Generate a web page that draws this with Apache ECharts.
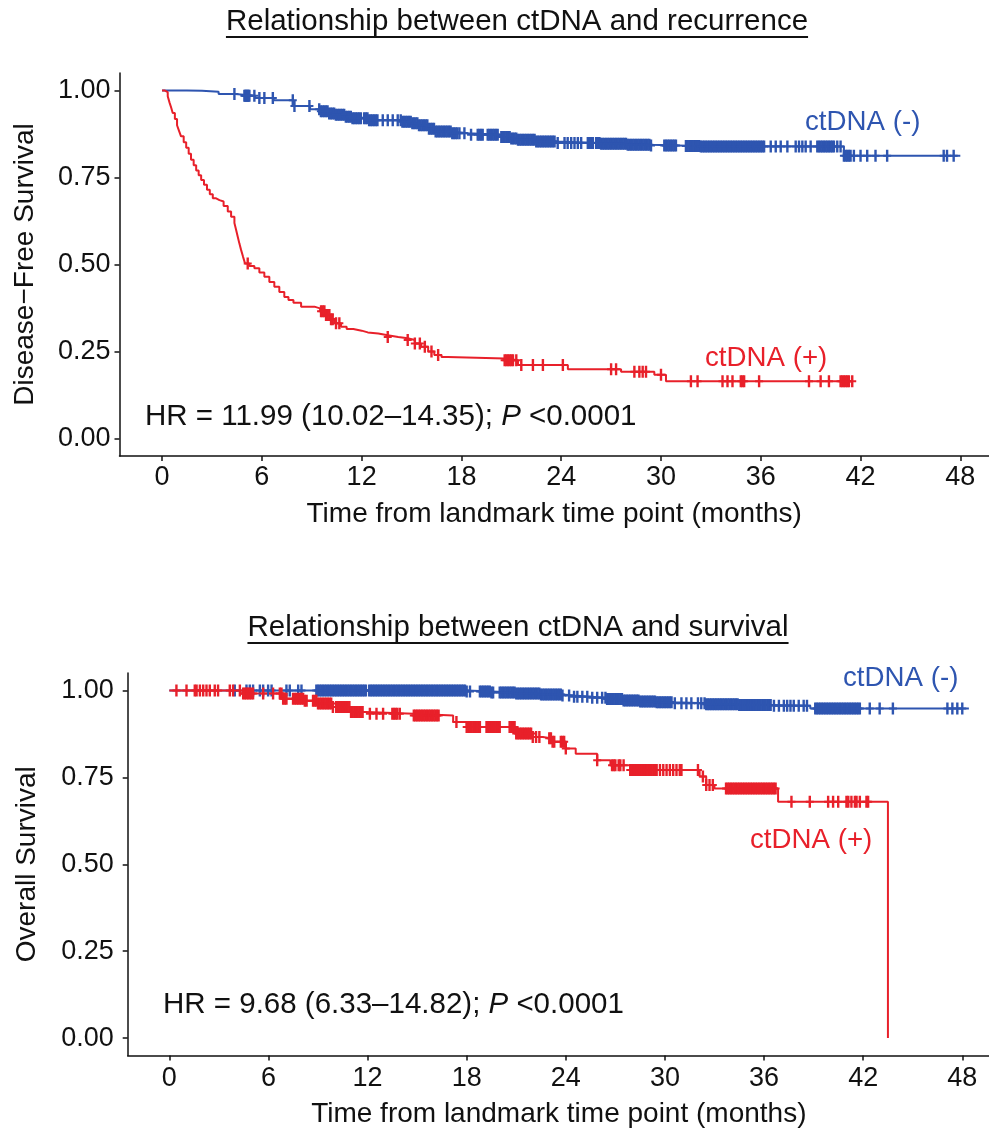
<!DOCTYPE html>
<html>
<head>
<meta charset="utf-8">
<script src="https://cdn.jsdelivr.net/npm/echarts@6.0.0/dist/echarts.min.js"></script>
<style>
html,body{margin:0;padding:0;background:#fff;}
#chart{width:989px;height:1133px;}
</style>
</head>
<body>
<div id="chart"></div>
<script>
// ---------- tick labels ----------
const xTicks = [0, 6, 12, 18, 24, 30, 36, 42, 48];
const yTicks = [0, 0.25, 0.5, 0.75, 1];

// ---------- Disease-free survival, ctDNA (-) ----------
const dfsNegTime = [0, 1.5, 2.4, 3.4, 4.4, 5.6, 6.7, 7.9, 8.9, 9.5, 10.0, 10.4, 11.0, 11.4, 12.4, 14.4, 15.0, 15.4, 16.0, 16.4, 17.4, 18.4, 20.4, 21.0, 21.4, 22.5, 23.7, 26.4, 28.0, 29.4, 31.0, 32.4, 41.0, 48.0];
const dfsNegSurv = [1.0, 0.999, 0.996, 0.99, 0.985, 0.978, 0.972, 0.955, 0.946, 0.94, 0.934, 0.93, 0.924, 0.92, 0.914, 0.91, 0.906, 0.9, 0.89, 0.882, 0.877, 0.873, 0.866, 0.862, 0.858, 0.853, 0.849, 0.847, 0.844, 0.842, 0.84, 0.839, 0.812, 0.812];
const dfsNegCensor = [4.35, 4.95, 5.0, 5.05, 5.1, 5.15, 5.2, 5.25, 5.55, 5.85, 6.15, 6.66, 7.86, 7.96, 8.86,
  9.45, 9.55, 9.65, 9.75, 9.85, 9.95, 10.05, 10.15, 10.25, 10.35, 10.45, 10.55, 10.65, 10.75, 10.85, 10.95, 11.05, 11.15, 11.25, 11.35, 11.45, 11.55, 11.65, 11.75, 11.85, 11.95,
  12.15, 12.25, 12.35, 12.45, 12.55, 12.65, 12.75, 12.85, 12.95,
  13.27, 13.57, 13.87, 14.17,
  14.35, 14.45, 14.55, 14.65, 14.75, 14.85, 14.95, 15.05, 15.15, 15.25, 15.35, 15.45, 15.55, 15.65, 15.75, 15.85, 15.95, 16.05, 16.15, 16.25, 16.35, 16.45, 16.55, 16.65, 16.75, 16.85, 16.95, 17.05, 17.15, 17.25, 17.35, 17.45, 17.55, 17.65, 17.75,
  17.88, 18.18, 18.58, 18.98, 19.08, 19.18, 19.28, 19.58, 19.68, 19.78, 19.88, 19.98, 20.08, 20.18,
  20.4, 20.5, 20.6, 20.7, 20.8, 20.9, 21.0, 21.1, 21.2, 21.3, 21.4, 21.5, 21.6, 21.7, 21.8, 21.9, 22.0, 22.1, 22.2, 22.3, 22.4, 22.5, 22.6, 22.7, 22.8, 22.9, 23.0, 23.1, 23.2, 23.3, 23.4, 23.5, 23.6,
  23.79, 24.2, 24.39, 24.6, 24.8, 25.0, 25.2, 25.6, 25.7, 25.8, 25.9,
  26.1, 26.2, 26.3, 26.4, 26.5, 26.6, 26.7, 26.8, 26.9, 27.0, 27.1, 27.2, 27.3, 27.4, 27.5, 27.6, 27.7, 27.8, 27.9, 28.0, 28.1, 28.2, 28.3, 28.4, 28.5, 28.6, 28.7, 28.8, 28.9, 29.0, 29.1, 29.2, 29.3, 29.4,
  30.2, 30.3, 30.4, 30.5, 30.6, 30.7, 30.8, 30.9,
  31.5, 31.6, 31.7, 31.8, 31.9, 32.0, 32.1, 32.2, 32.3, 32.4, 32.5, 32.6, 32.7, 32.8, 32.9, 33.0, 33.1, 33.2, 33.3, 33.4, 33.5, 33.6, 33.7, 33.8, 33.9, 34.0, 34.1, 34.2, 34.3, 34.4, 34.5, 34.6, 34.7, 34.8, 34.9, 35.0, 35.1, 35.2, 35.3, 35.4, 35.5, 35.6, 35.7, 35.8, 35.9, 36.0, 36.1, 36.2,
  36.6, 36.9, 37.2, 37.6, 38.1, 38.3, 38.5, 38.7, 39.0,
  39.4, 39.5, 39.6, 39.7, 39.8, 39.9, 40.0, 40.1, 40.2, 40.3, 40.4,
  40.6, 40.8, 41.0, 41.1, 41.2, 41.3, 41.4, 41.6, 42.0, 42.4, 42.9, 43.6, 47.0, 47.2, 47.6];

// ---------- Disease-free survival, ctDNA (+) ----------
const dfsPosTime = [0, 0.15, 0.34, 0.45, 0.55, 0.64, 0.77, 0.9, 1.02, 1.14, 1.3, 1.45, 1.6, 1.74, 1.9, 2.05, 2.2, 2.35, 2.52, 2.7, 2.87, 3.05, 3.25, 3.45, 3.7, 3.95, 4.15, 4.35, 4.45, 4.55, 4.65, 4.75, 4.87, 4.99, 5.25, 5.55, 5.85, 6.15, 6.45, 6.75, 7.05, 7.35, 7.6, 7.9, 8.36, 9.16, 9.5, 9.8, 10.1, 10.36, 10.76, 11.1, 11.5, 12.0, 12.37, 13.0, 13.57, 14.2, 14.77, 15.2, 15.57, 16.0, 16.37, 16.8, 17.18, 20.6, 21.4, 24.4, 27.6, 29.6, 30.3, 41.5];
const dfsPosSurv = [1.0, 0.995, 0.983, 0.965, 0.95, 0.935, 0.918, 0.9, 0.884, 0.868, 0.851, 0.835, 0.818, 0.801, 0.785, 0.77, 0.756, 0.743, 0.729, 0.715, 0.702, 0.69, 0.685, 0.681, 0.668, 0.652, 0.637, 0.619, 0.6, 0.58, 0.56, 0.542, 0.522, 0.503, 0.496, 0.489, 0.477, 0.465, 0.45, 0.436, 0.421, 0.407, 0.398, 0.39, 0.379, 0.374, 0.366, 0.355, 0.343, 0.331, 0.321, 0.315, 0.31, 0.305, 0.302, 0.297, 0.292, 0.288, 0.283, 0.273, 0.264, 0.25, 0.24, 0.234, 0.23, 0.225, 0.211, 0.199, 0.192, 0.183, 0.165, 0.165];
const dfsPosCensor = [5.15, 9.56, 9.66, 9.76, 9.86, 9.96, 10.06, 10.16, 10.26, 10.46, 10.66, 13.57, 14.77, 15.2, 15.5, 15.8, 16.2, 16.6,
  20.6, 20.7, 20.8, 20.9, 21.0, 21.1, 21.3, 21.6, 22.3, 22.9, 24.1, 27.0, 27.3, 28.4, 28.7, 28.9, 29.1, 30.0,
  31.8, 32.2, 33.7, 34.0, 34.3, 34.8, 34.9, 35.0, 35.9, 38.9, 39.6, 40.1, 40.8, 40.9, 41.0, 41.1, 41.2, 41.3, 41.5];

// ---------- Overall survival, ctDNA (-) ----------
const osNegTime = [0, 18.0, 19.5, 21.0, 22.5, 23.8, 24.5, 25.5, 26.5, 27.5, 28.5, 29.5, 30.5, 32.5, 34.5, 36.5, 38.8, 48.4];
const osNegSurv = [1.0, 0.997, 0.994, 0.991, 0.988, 0.985, 0.982, 0.979, 0.975, 0.971, 0.968, 0.966, 0.963, 0.96, 0.958, 0.956, 0.948, 0.948];
const osNegCensor = [3.96, 4.67, 4.87, 5.07, 5.48, 5.68, 5.98, 6.19, 7.09, 7.29, 7.8, 8.0,
  8.9, 9.0, 9.1, 9.2, 9.3, 9.4, 9.5, 9.6, 9.7, 9.8, 9.9, 10.0, 10.1, 10.2, 10.3, 10.4, 10.5, 10.6, 10.7, 10.8, 10.9, 11.0, 11.1, 11.2, 11.3, 11.4, 11.5, 11.6, 11.7, 11.8, 11.9,
  12.1, 12.2, 12.3, 12.4, 12.5, 12.6, 12.7, 12.8, 12.9, 13.0, 13.1, 13.2, 13.3, 13.4, 13.5, 13.6, 13.7, 13.8, 13.9, 14.0, 14.1, 14.2, 14.3, 14.4, 14.5, 14.6, 14.7, 14.8, 14.9, 15.0,
  15.1, 15.2, 15.3, 15.4, 15.5, 15.6, 15.7, 15.8, 15.9, 16.0, 16.1, 16.2, 16.3, 16.4, 16.5, 16.6, 16.7, 16.8, 16.9, 17.0, 17.1, 17.2, 17.3, 17.4, 17.5, 17.6, 17.7, 17.8, 17.9, 18.0,
  18.2, 18.8, 18.9, 19.0, 19.1, 19.2, 19.3, 19.4, 19.5, 19.6,
  20.0, 20.1, 20.2, 20.3, 20.4, 20.5, 20.6, 20.7, 20.8, 20.9, 21.0, 21.1, 21.2, 21.3, 21.4, 21.5, 21.6, 21.7, 21.8, 21.9, 22.0, 22.1, 22.2, 22.3, 22.4, 22.5, 22.6, 22.7, 22.8, 22.9, 23.0, 23.1, 23.2, 23.3, 23.4, 23.5, 23.6, 23.7, 23.8,
  24.2, 24.5, 24.7, 25.0, 25.3, 25.6, 25.9, 26.2,
  26.4, 26.5, 26.6, 26.7, 26.8, 26.9, 27.0, 27.1, 27.2, 27.3, 27.4, 27.5, 27.6, 27.7, 27.8, 27.9, 28.0, 28.1, 28.2, 28.3, 28.4, 28.5, 28.6, 28.7, 28.8, 28.9, 29.0, 29.1, 29.2, 29.3, 29.4, 29.5, 29.6, 29.7, 29.8, 29.9, 30.0, 30.1, 30.2, 30.3, 30.4,
  30.6, 31.0, 31.3, 31.6, 32.0, 32.2,
  32.4, 32.5, 32.6, 32.7, 32.8, 32.9, 33.0, 33.1, 33.2, 33.3, 33.4, 33.5, 33.6, 33.7, 33.8, 33.9, 34.0, 34.1, 34.2, 34.3, 34.4, 34.5, 34.6, 34.7, 34.8, 34.9, 35.0, 35.1, 35.2, 35.3, 35.4, 35.5, 35.6, 35.7, 35.8, 35.9, 36.0, 36.1, 36.2, 36.3, 36.4,
  36.6, 36.9, 37.2, 37.4, 37.6, 37.8, 38.1, 38.4, 38.6,
  39.1, 39.2, 39.3, 39.4, 39.5, 39.6, 39.7, 39.8, 39.9, 40.0, 40.1, 40.2, 40.3, 40.4, 40.5, 40.6, 40.7, 40.8, 40.9, 41.0, 41.1, 41.2, 41.3, 41.4, 41.5, 41.6, 41.7, 41.8,
  42.4, 43.0, 43.8, 47.1, 47.4, 47.7, 48.0];

// ---------- Overall survival, ctDNA (+) ----------
const osPosTime = [0, 4.3, 6.89, 8.2, 8.91, 9.9, 10.93, 11.9, 14.8, 17.18, 18.0, 21.0, 22.0, 22.6, 23.2, 24.0, 24.6, 25.9, 26.7, 27.9, 32.1, 32.5, 33.0, 36.85, 43.5];
const osPosSurv = [1.0, 0.991, 0.976, 0.97, 0.962, 0.952, 0.938, 0.933, 0.928, 0.909, 0.895, 0.876, 0.866, 0.862, 0.852, 0.833, 0.818, 0.799, 0.785, 0.771, 0.752, 0.728, 0.718, 0.68, 0.0];
const osPosCensor = [0.43, 1.04, 1.54, 1.65, 1.85, 2.05, 2.25, 2.45, 2.75, 2.95, 3.66, 3.86, 4.27,
  4.47, 4.57, 4.67, 4.77, 4.87, 4.97, 5.07,
  5.68, 6.28, 6.69, 6.79, 6.89, 6.99, 7.09,
  7.49, 7.6, 7.7, 7.8, 7.9, 8.0, 8.1, 8.2, 8.31,
  8.7, 8.8, 8.9, 9.0, 9.1, 9.2, 9.3, 9.4, 9.5, 9.6, 9.7, 9.8, 9.9,
  10.1, 10.2, 10.3, 10.4, 10.5, 10.6, 10.7, 10.8, 10.9, 11.0, 11.1, 11.2, 11.3, 11.4, 11.5, 11.6, 11.7,
  12.14, 12.54, 12.94, 13.5, 13.6, 13.7, 13.8, 13.95,
  14.8, 14.9, 15.0, 15.1, 15.2, 15.3, 15.4, 15.5, 15.6, 15.7, 15.8, 15.9, 16.0, 16.1, 16.2, 16.3,
  17.38, 18.0, 18.1, 18.2, 18.3, 18.4, 18.5, 18.6, 18.7, 18.8,
  19.2, 19.3, 19.4, 19.5, 19.6, 19.7, 19.8, 19.9, 20.0,
  20.6, 20.7, 20.8, 20.9, 21.0, 21.1, 21.2, 21.3, 21.4, 21.5, 21.6, 21.7, 21.8, 21.9, 22.0,
  22.2, 22.4, 23.0, 23.1, 23.2, 23.3, 23.7, 23.8, 23.9, 24.0,
  25.9, 26.8, 26.9, 27.0, 27.2, 27.3, 27.5,
  27.9, 28.0, 28.1, 28.2, 28.3, 28.4, 28.5, 28.6, 28.7, 28.8, 28.9, 29.0, 29.1, 29.2, 29.3, 29.4, 29.5,
  29.7, 29.9, 30.1, 30.3, 30.5, 30.7, 30.9, 31.0,
  32.0, 32.3, 32.5, 32.7, 32.9,
  33.7, 33.8, 33.9, 34.0, 34.1, 34.2, 34.3, 34.4, 34.5, 34.6, 34.7, 34.8, 34.9, 35.0, 35.1, 35.2, 35.3, 35.4, 35.5, 35.6, 35.7, 35.8, 35.9, 36.0, 36.1, 36.2, 36.3, 36.4, 36.5, 36.6, 36.7,
  37.66, 38.77, 39.88, 40.18, 40.49, 40.99, 41.1, 41.29, 41.5, 41.6, 41.8, 42.2, 42.3];

// ---------- texts ----------
const titleTop = 'Relationship between ctDNA and recurrence';
const titleBottom = 'Relationship between ctDNA and survival';
const yNameTop = 'Disease\u2212Free Survival';
const yNameBottom = 'Overall Survival';
const xName = 'Time from landmark time point (months)';
const hrTop = ['HR = 11.99 (10.02\u201314.35); ', 'P', ' <0.0001'];
const hrBottom = ['HR = 9.68 (6.33\u201314.82); ', 'P', ' <0.0001'];
const labNeg = 'ctDNA (-)';
const labPos = 'ctDNA (+)';

// ---------- style ----------
const FONT = '"Liberation Sans", Arial, Helvetica, sans-serif';
const BLUE = '#2E55B0';
const RED = '#E8202A';
const INK = '#111111';
const PLUS = 'path://M2.8,0H5.2V5H8V7H5.2V12H2.8V7H0V5H2.8Z';

function survAt(times, vals, t) {
  let s = vals[0];
  for (let i = 0; i < times.length; i++) {
    if (times[i] <= t) s = vals[i]; else break;
  }
  return s;
}
function kmLine(times, vals, color, idx) {
  return {
    type: 'line', step: 'end', xAxisIndex: idx, yAxisIndex: idx,
    data: times.map((t, i) => [t, vals[i]]),
    showSymbol: false, symbol: 'none',
    lineStyle: { color: color, width: 2 }, z: 3, silent: true
  };
}
function censor(ctimes, times, vals, color, idx) {
  return {
    type: 'scatter', xAxisIndex: idx, yAxisIndex: idx,
    data: ctimes.map(t => [t, survAt(times, vals, t)]),
    symbol: PLUS, symbolSize: [8, 12],
    itemStyle: { color: color, opacity: 1 }, z: 4, silent: true
  };
}

function measure(text, size) {
  const c = document.createElement('canvas').getContext('2d');
  c.font = size + 'px ' + FONT;
  return c.measureText(text).width;
}

function xAxisDef(idx, min, max, nameGap, margin) {
  return {
    type: 'value', gridIndex: idx, min: min, max: max,
    name: xName, nameLocation: 'middle', nameGap: nameGap,
    nameTextStyle: { fontFamily: FONT, fontSize: 28, color: INK, padding: [0, 14, 0, 0] },
    axisLine: { show: true, onZero: false, lineStyle: { color: INK, width: 1.5 } },
    axisTick: { show: true, length: 5, lineStyle: { color: INK, width: 1.5 }, customValues: xTicks },
    axisLabel: { fontFamily: FONT, fontSize: 27, color: INK, margin: margin, customValues: xTicks },
    splitLine: { show: false }
  };
}
function yAxisDef(idx, name, nameGap, margin) {
  return {
    type: 'value', gridIndex: idx, min: -0.05, max: 1.05,
    name: name, nameLocation: 'middle', nameGap: nameGap,
    nameTextStyle: { fontFamily: FONT, fontSize: 28, color: INK },
    axisLine: { show: true, onZero: false, lineStyle: { color: INK, width: 1.5 } },
    axisTick: { show: true, length: 5, lineStyle: { color: INK, width: 1.5 }, customValues: yTicks },
    axisLabel: { fontFamily: FONT, fontSize: 27, color: INK, margin: margin, customValues: yTicks,
      formatter: v => Number(v).toFixed(2) },
    splitLine: { show: false }
  };
}

function titleGraphic(text, cx, cy, ulY) {
  const w = measure(text, 29.5);
  return [
    { type: 'text', x: cx, y: cy, style: { text: text, font: '29.5px ' + FONT, fill: INK, align: 'center', verticalAlign: 'middle' } },
    { type: 'line', shape: { x1: cx - w / 2, y1: ulY, x2: cx + w / 2, y2: ulY }, style: { stroke: INK, lineWidth: 2 } }
  ];
}
function hrGraphic(parts, x, cy) {
  return {
    type: 'text', x: x, y: cy,
    style: {
      text: '{n|' + parts[0] + '}{i|' + parts[1] + '}{n|' + parts[2] + '}',
      align: 'left', verticalAlign: 'middle', fill: INK,
      rich: {
        n: { fontFamily: FONT, fontSize: 29.5, fill: INK, color: INK },
        i: { fontFamily: FONT, fontSize: 29.5, fontStyle: 'italic', fill: INK, color: INK }
      }
    }
  };
}
function labGraphic(text, x, cy, color) {
  return { type: 'text', x: x, y: cy, style: { text: text, font: '27.7px ' + FONT, fill: color, align: 'left', verticalAlign: 'middle' } };
}

const chart = echarts.init(document.getElementById('chart'), null, { renderer: 'canvas' });
chart.setOption({
  animation: false,
  backgroundColor: '#ffffff',
  grid: [
    { left: 119.5, top: 73, width: 883.4, height: 383, outerBoundsMode: 'none', containLabel: false },
    { left: 127.7, top: 673, width: 876.2, height: 382.5, outerBoundsMode: 'none', containLabel: false }
  ],
  xAxis: [xAxisDef(0, -2.56, 50.56, 44, 8), xAxisDef(1, -2.52, 50.52, 45, 10)],
  yAxis: [yAxisDef(0, yNameTop, 80, 9), yAxisDef(1, yNameBottom, 86, 14)],
  series: [
    kmLine(dfsNegTime, dfsNegSurv, BLUE, 0),
    censor(dfsNegCensor, dfsNegTime, dfsNegSurv, BLUE, 0),
    kmLine(dfsPosTime, dfsPosSurv, RED, 0),
    censor(dfsPosCensor, dfsPosTime, dfsPosSurv, RED, 0),
    kmLine(osNegTime, osNegSurv, BLUE, 1),
    censor(osNegCensor, osNegTime, osNegSurv, BLUE, 1),
    kmLine(osPosTime, osPosSurv, RED, 1),
    censor(osPosCensor, osPosTime, osPosSurv, RED, 1)
  ],
  graphic: [].concat(
    titleGraphic(titleTop, 517, 22, 37),
    titleGraphic(titleBottom, 518, 628, 643),
    [
      hrGraphic(hrTop, 145, 417),
      hrGraphic(hrBottom, 163, 1005),
      labGraphic(labNeg, 805, 122, BLUE),
      labGraphic(labPos, 705, 358, RED),
      labGraphic(labNeg, 843, 678, BLUE),
      labGraphic(labPos, 750, 840, RED)
    ]
  )
});
</script>
</body>
</html>
